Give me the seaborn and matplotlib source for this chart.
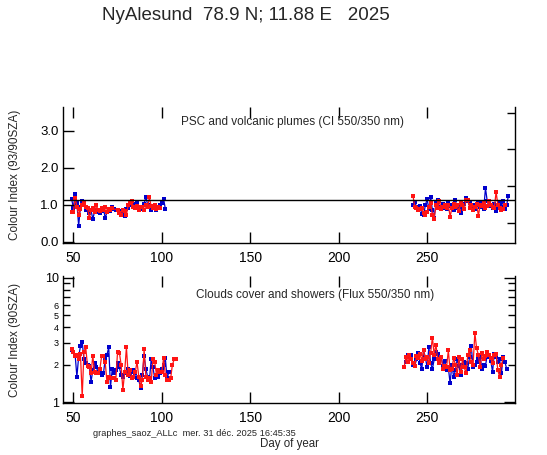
import numpy as np
import pandas as pd
import matplotlib
matplotlib.use("Agg")
import matplotlib.pyplot as plt
import seaborn as sns
from matplotlib.ticker import FixedLocator, FixedFormatter

# Colour index (93/90 SZA) - top panel
ci_blue_early_days = list(range(49, 75)) + list(range(77, 103))
ci_blue_early = [1.16, 0.92, 1.28, 1.04, 0.43, 0.94, 1.09, 1.0, 0.86, 0.9,
                 0.77, 0.85, 0.61, 0.82, 0.8, 0.86, 0.78, 0.84, 0.9, 0.64,
                 0.8, 0.86, 0.83, 0.95, 0.88, 0.85,
                 0.82, 0.78, 0.70, 0.88, 0.92, 1.04, 0.98, 1.02, 0.94, 1.05,
                 0.95, 0.9, 0.88, 1.02, 1.22, 1.0, 0.95, 0.86, 0.94, 0.9,
                 0.86, 0.92, 1.0, 1.05, 1.16, 0.89]
ci_red_early_days = list(range(49, 73)) + list(range(75, 100))
ci_red_early = [0.79, 0.8, 1.18, 0.95, 0.72, 0.88, 1.0, 1.06, 0.95, 0.92,
                0.64, 0.85, 0.9, 0.8, 0.98, 0.86, 0.82, 0.9, 0.85, 0.93,
                0.8, 0.88, 0.85, 0.9,
                0.86, 0.78, 0.73, 0.85, 0.82, 0.73, 0.98, 1.06, 1.09, 0.94,
                0.92, 0.96, 0.85, 0.93, 0.95, 0.85, 0.98, 0.94, 1.2, 0.96,
                0.92, 0.98, 0.88, 0.93, 0.9]
ci_blue_late_days = list(range(242, 297))
ci_blue_late = [0.98, 1.07, 0.95, 0.92, 0.96, 0.75, 0.72, 0.98, 1.15, 0.88,
                1.22, 0.85, 0.65, 1.05, 1.12, 0.9, 0.95, 1.02, 0.92, 0.88,
                1.05, 0.96, 1.0, 0.85, 1.12, 0.9, 1.0, 0.78, 0.95, 1.02,
                1.18, 1.1, 1.05, 0.92, 0.98, 0.88, 1.0, 1.05, 0.95, 1.06,
                0.88, 1.45, 1.1, 0.96, 1.0, 0.92, 1.02, 0.82, 0.9, 1.05,
                0.95, 1.1, 0.88, 1.0, 1.25]
ci_red_late_days = list(range(242, 295))
ci_red_late = [1.25, 0.95, 0.9, 0.85, 0.88, 0.92, 0.78, 0.72, 0.8, 0.95,
               1.05, 0.72, 0.62, 0.98, 0.92, 1.1, 0.88, 0.95, 1.0, 0.92,
               1.0, 0.68, 0.9, 1.02, 0.95, 0.98, 0.82, 1.05, 1.0, 0.88,
               1.12, 1.12, 0.92, 0.98, 0.85, 0.95, 1.02, 0.7, 1.0, 0.96,
               1.08, 0.92, 0.96, 1.1, 1.0, 0.95, 0.9, 1.35, 1.0, 0.92,
               0.85, 0.88, 1.0]
ci_reference = 1.13

# Colour index (90 SZA, flux) - bottom panel
fx_blue_early_days = list(range(49, 105))
fx_blue_early = [2.63, 2.55, 2.4, 1.6, 2.32, 2.8, 3.05, 2.2, 2.05, 2.0,
                 1.95, 1.46, 1.8, 2.05, 1.9, 1.75, 1.72, 1.65, 1.7, 2.2,
                 2.4, 2.75, 1.33, 1.85, 1.7, 1.8, 2.05, 1.9, 1.65, 1.6,
                 1.75, 1.7, 1.85, 1.62, 1.75, 1.82, 1.7, 1.55, 1.5, 1.3,
                 1.65, 2.35, 1.85, 1.6, 1.5, 2.2, 1.9, 1.55, 1.65, 1.58,
                 1.7, 1.85, 2.0, 2.25, 1.55, 1.75]
fx_red_early_days = list(range(49, 109))
fx_red_early = [2.65, 2.55, 2.35, 2.4, 2.2, 2.45, 1.11, 2.55, 2.75, 1.95,
                1.9, 1.7, 2.35, 1.75, 1.7, 1.72, 1.85, 2.35, 2.35, 2.1,
                1.45, 1.6, 1.55, 1.55, 1.55, 1.5, 2.55, 2.5, 2.0, 1.25,
                1.75, 2.75, 1.65, 1.8, 1.55, 1.6, 1.75, 2.1, 1.6, 1.35,
                1.5, 2.65, 1.6, 1.5, 1.55, 1.45, 2.2, 2.1, 1.65, 1.8,
                1.75, 1.75, 2.25, 1.65, 1.5, 1.5, 1.55, 2.0, 2.2, 2.2]
fx_blue_late_days = list(range(238, 296))
fx_blue_late = [2.1, 2.4, 2.35, 2.4, 2.0, 1.95, 2.2, 2.5, 2.05, 1.85,
                2.6, 2.3, 1.9, 2.75, 2.05, 1.85, 2.2, 2.55, 2.45, 2.2,
                2.3, 1.95, 2.15, 1.8, 1.9, 1.42, 2.0, 1.6, 1.8, 2.2,
                1.95, 1.65, 2.0, 2.1, 2.05, 1.85, 2.3, 2.8, 1.9, 2.0,
                2.1, 2.2, 2.3, 1.85, 2.0, 1.95, 2.4, 2.3, 2.15, 1.75,
                2.45, 2.3, 2.1, 2.2, 1.7, 2.3, 2.1, 1.85]
fx_red_late_days = list(range(237, 294))
fx_red_late = [1.9, 2.3, 2.1, 2.4, 2.2, 2.05, 1.95, 2.35, 2.25, 2.45,
               2.15, 2.6, 2.2, 2.3, 2.05, 2.5, 3.3, 2.4, 2.9, 2.2,
               2.05, 2.3, 1.85, 1.95, 1.9, 2.6, 1.8, 1.85, 2.25, 2.0,
               1.65, 2.3, 1.75, 2.2, 1.9, 1.7, 2.4, 2.6, 2.1, 2.0,
               3.6, 2.7, 2.4, 1.9, 2.5, 2.2, 2.35, 2.55, 2.4, 2.25,
               2.05, 2.4, 2.45, 1.8, 1.6, 2.0, 2.25]

x_ticks = [50, 100, 150, 200, 250]
BLUE = "#0000CC"
RED = "#FF1414"

sns.set_style("ticks")
plt.rcParams['font.family'] = ['Liberation Sans', 'DejaVu Sans']

fig = plt.figure(figsize=(5.47, 4.55), dpi=100)
ax1 = fig.add_axes([0.1160, 0.4665, 0.8255, 0.2983])
ax2 = fig.add_axes([0.1160, 0.1150, 0.8255, 0.2784])


def draw(ax, days, vals, color):
    df = pd.DataFrame({"day": days, "val": vals})
    sns.lineplot(data=df, x="day", y="val", ax=ax, color=color, marker="s",
                 markersize=3.2, markeredgewidth=0, linewidth=0.9,
                 estimator=None, sort=False)


for d, v in [(ci_blue_early_days, ci_blue_early), (ci_blue_late_days, ci_blue_late)]:
    draw(ax1, d, v, BLUE)
for d, v in [(ci_red_early_days, ci_red_early), (ci_red_late_days, ci_red_late)]:
    draw(ax1, d, v, RED)
for d, v in [(fx_blue_early_days, fx_blue_early), (fx_blue_late_days, fx_blue_late)]:
    draw(ax2, d, v, BLUE)
for d, v in [(fx_red_early_days, fx_red_early), (fx_red_late_days, fx_red_late)]:
    draw(ax2, d, v, RED)

ax1.axhline(ci_reference, color="black", linewidth=1)

for ax in (ax1, ax2):
    ax.set_axisbelow(False)
    ax.set_xlim(44.4, 299.7)
    ax.set_xticks(x_ticks)
    ax.set_xlabel("")
    ax.set_ylabel("")
    ax.spines["top"].set_visible(False)
    for s in ["left", "bottom", "right"]:
        ax.spines[s].set_color("black")
        ax.spines[s].set_linewidth(1)
    ax.tick_params(axis="x", which="both", direction="in", length=8, width=1,
                   top=True, bottom=True, labelsize=10, pad=6, colors="black")
    ax.tick_params(axis="y", direction="in", length=8, width=1, left=True, colors="black")

ax1.set_ylim(-0.03, 3.65)
ax1.set_yticks([0, 1, 2, 3])
ax1.set_yticklabels(["0.0", "1.0", "2.0", "3.0"])
ax1.tick_params(axis="y", labelsize=9.5, right=False)
ax1r = ax1.secondary_yaxis("right")
ax1r.set_yticks([0.5, 1.5, 2.5, 3.5])
ax1r.set_yticklabels([])
ax1r.tick_params(direction="in", length=6, width=1, colors="black")
ax1r.spines["right"].set_visible(False)

ax2.set_yscale("log")
ax2.set_ylim(0.99, 10.3)
ax2.yaxis.set_major_locator(FixedLocator([1, 10]))
ax2.yaxis.set_major_formatter(FixedFormatter(["1", "10"]))
ax2.yaxis.set_minor_locator(FixedLocator([2, 3, 4, 5, 6, 7, 8, 9]))
ax2.yaxis.set_minor_formatter(FixedFormatter(["2", "3", "4", "5", "6", "", "", ""]))
ax2.tick_params(axis="y", which="major", labelsize=9, right=True)
ax2.tick_params(axis="y", which="minor", direction="in", length=5, width=1,
                left=True, right=True, labelsize=6.5, colors="black")

ax1.text(0.507, 0.89, "PSC and volcanic plumes (CI 550/350 nm)", transform=ax1.transAxes,
         ha="center", va="center", fontsize=8.5)
ax2.text(0.557, 0.85, "Clouds cover and showers (Flux 550/350 nm)", transform=ax2.transAxes,
         ha="center", va="center", fontsize=8.5)

fig.text(0.45, 0.965, "NyAlesund  78.9 N; 11.88 E   2025", ha="center", va="center", fontsize=13.5)
fig.text(0.027, 0.615, "Colour Index (93/90SZA)", rotation=90, ha="center", va="center", fontsize=8.5)
fig.text(0.027, 0.253, "Colour Index (90SZA)", rotation=90, ha="center", va="center", fontsize=8.5)
fig.text(0.17, 0.048, "graphes_saoz_ALLc  mer. 31 déc. 2025 16:45:35", ha="left", va="center", fontsize=6.7)
fig.text(0.53, 0.025, "Day of year", ha="center", va="center", fontsize=8.3)

fig.savefig("out.png", dpi=100)
